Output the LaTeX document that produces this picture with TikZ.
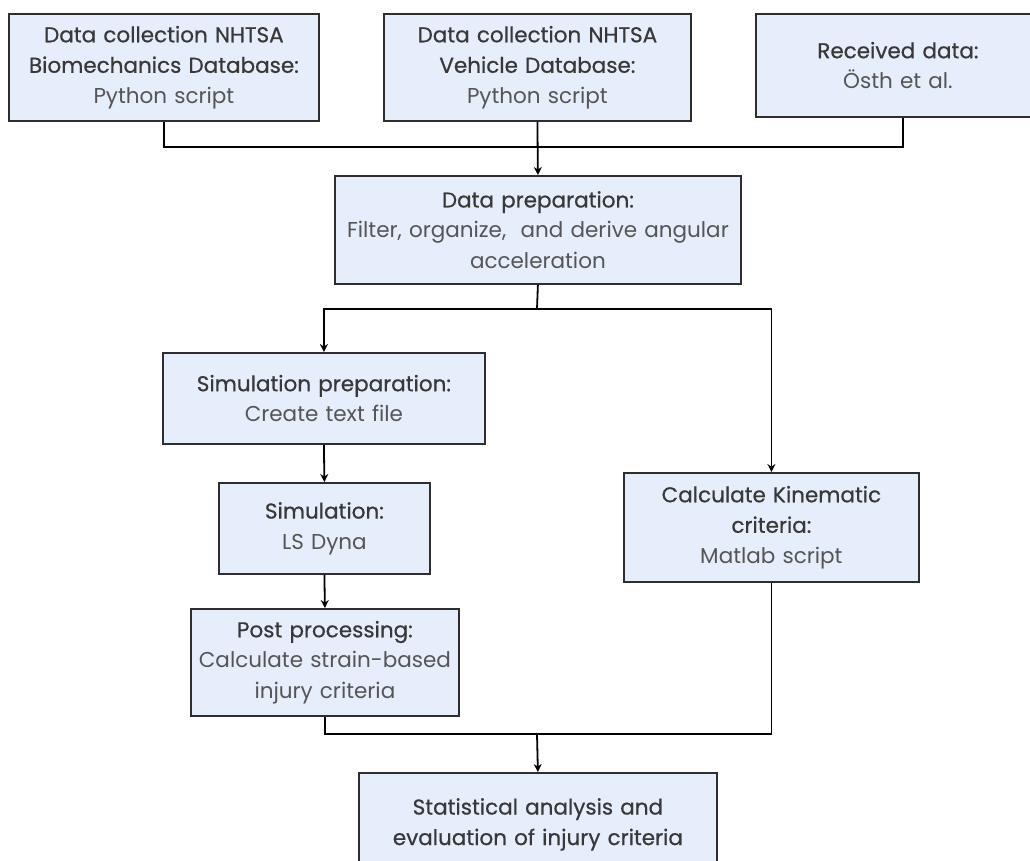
\documentclass[tikz,border=0pt]{standalone}
\usepackage{fontspec}
\setmainfont{Poppins}
\newfontfamily\titlefont[FakeBold=0.6]{Poppins}
\usetikzlibrary{arrows.meta,calc}
\definecolor{boxfill}{HTML}{E6EEFB}
\definecolor{boxline}{HTML}{2E2E2E}
\definecolor{titlecol}{HTML}{383838}
\definecolor{subcol}{HTML}{555555}
\newcommand{\tl}[1]{{\titlefont\color{titlecol}#1}}
\newcommand{\sbt}[1]{{\color{subcol}#1}}
\tikzset{
  box/.style={draw=boxline, fill=boxfill, line width=1.8pt, anchor=north west,
    inner sep=0pt, align=center, font=\fontsize{21.5}{30.5}\selectfont},
  conn/.style={draw=black, line width=1.8pt},
  arr/.style={conn, -{Stealth[length=8pt,width=8pt]}}
}
\newcommand{\boxat}[6]{% name, x1, y1, x2, y2, text
  \node[box, minimum width=#4-#2, minimum height=#5-#3, text width=#4-#2-4] (#1) at (#2,#3) {#6};}
\begin{document}
\begin{tikzpicture}[x=1pt,y=-1pt]
\clip (0,0) rectangle (1030,860);
\fill[white] (0,0) rectangle (1030,860);
\boxat{b1}{8}{13}{318}{120}{\tl{Data collection NHTSA}\\\tl{Biomechanics Database:}\\\sbt{Python script}}
\boxat{b2}{383}{13}{690}{120}{\tl{Data collection NHTSA}\\\tl{Vehicle Database:}\\\sbt{Python script}}
\boxat{b3}{755}{13}{1039}{116}{\tl{Received data:}\\\sbt{Östh et al.}}
\boxat{dp}{334}{175}{740}{283}{\tl{Data preparation:}\\\sbt{Filter, organize,\ \ and derive angular}\\\sbt{acceleration}}
\boxat{sp}{162}{352}{484}{443}{\tl{Simulation preparation:}\\\sbt{Create text file}}
\boxat{sim}{218}{482}{429}{573}{\tl{Simulation:}\\\sbt{LS Dyna}}
\boxat{pp}{190}{608}{458}{715}{\tl{Post processing:}\\\sbt{Calculate strain-based}\\\sbt{injury criteria}}
\boxat{kin}{623}{472}{918}{581}{\tl{Calculate Kinematic}\\\tl{criteria:}\\\sbt{Matlab script}}
\boxat{st}{358}{772}{716}{875}{\tl{Statistical analysis and}\\\tl{evaluation of injury criteria}}
\coordinate (j1) at (537,147);
\coordinate (j2) at (537,309);
\coordinate (j3) at (537,734);
\draw[conn] (b1.south) |- (j1) -| ($(b3.south)+(5,0)$);
\draw[arr] (b2.south) -- (dp.north);
\draw[conn] (dp.south) -- (j2);
\draw[arr] (j2) -| (sp.north);
\draw[arr] (j2) -| (kin.north);
\draw[arr] (sp.south) -- (sim.north);
\draw[arr] (sim.south) -- (pp.north);
\draw[conn] (pp.south) |- (j3) -| (kin.south);
\draw[arr] (j3) -- (st.north);
\end{tikzpicture}
\end{document}
